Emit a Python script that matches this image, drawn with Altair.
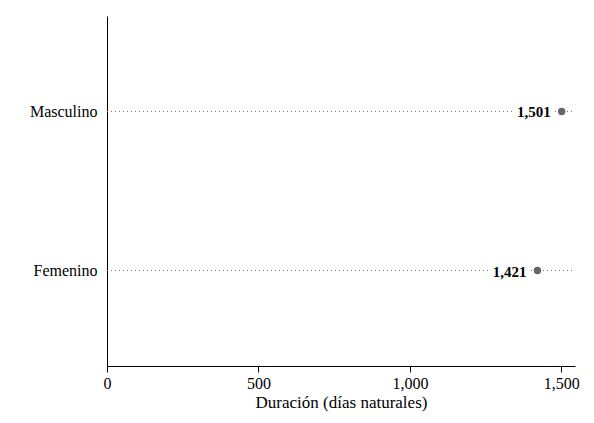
import altair as alt
import pandas as pd

categories = ["Masculino", "Femenino"]
values = [1501, 1421]
labels = ["1,501", "1,421"]

df = pd.DataFrame({"cat": categories, "val": values, "lab": labels})

FONT = "'Times New Roman', 'Liberation Serif', Times, serif"
W, H = 468, 350

y = alt.Y("cat:N", sort=categories,
          scale=alt.Scale(type="point", padding=0.6),
          axis=alt.Axis(title=None, ticks=False, labelPadding=10, labelFontSize=16,
                        labelFont=FONT, labelColor="black", domainColor="black",
                        domainWidth=1))
xscale = alt.Scale(domain=[0, 1545], nice=False, zero=True)

rule = alt.Chart(df).mark_rule(color="#777", strokeDash=[1, 3], strokeWidth=1).encode(
    y=y, x=alt.value(0), x2=alt.value(W))

pts = alt.Chart(df).mark_point(filled=True, color="#666", size=55, opacity=1).encode(
    y=y,
    x=alt.X("val:Q", scale=xscale,
            axis=alt.Axis(title="Duración (días naturales)", values=[0, 500, 1000, 1500],
                          format=",d", labelFont=FONT, labelFontSize=16, labelColor="black",
                          labelFlush=False,
                          titleFont=FONT, titleFontSize=17, titleFontWeight="normal",
                          titleColor="black", domainColor="black", tickColor="black",
                          tickSize=6, labelPadding=3, titlePadding=3, grid=False)))

halo = alt.Chart(df).mark_text(align="right", baseline="middle", dx=-11, dy=1,
                               font=FONT, fontSize=15, fontWeight="bold",
                               color="white", stroke="white", strokeWidth=8).encode(
    y=y, x=alt.X("val:Q", scale=xscale), text="lab:N")

txt = alt.Chart(df).mark_text(align="right", baseline="middle", dx=-11, dy=1,
                              font=FONT, fontSize=15, fontWeight="bold",
                              color="black").encode(
    y=y, x=alt.X("val:Q", scale=xscale), text="lab:N")

chart = alt.layer(rule, halo, txt, pts).properties(
    width=W, height=H,
    padding={"left": 99, "top": 8, "right": 11, "bottom": 49},
    autosize=alt.AutoSizeParams(type="none"),
).configure(background="white").configure_view(stroke=None)

chart.save("out.html", embed_options={"renderer": "svg", "actions": False})
